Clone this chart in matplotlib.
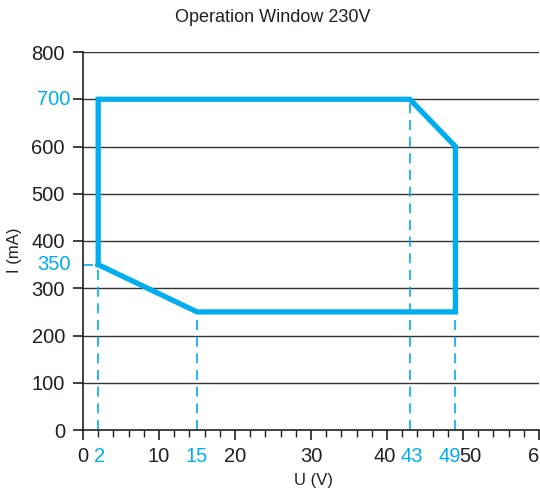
import matplotlib
matplotlib.use("Agg")
import matplotlib.pyplot as plt
from matplotlib import font_manager
import matplotlib.transforms as mtransforms

# Data
poly_u = [2, 2, 43, 49, 49, 15, 2]
poly_i = [350, 700, 700, 600, 250, 250, 350]
mark_u = [2, 15, 43, 49]
mark_i_top = [350, 250, 700, 600]
mark_i_label = [700, 350]
x_major = [0, 10, 20, 30, 40, 50, 60]
y_major = [0, 100, 200, 300, 400, 500, 600, 700, 800]

names = {f.name for f in font_manager.fontManager.ttflist}
fam = ['Liberation Sans Narrow', 'Liberation Sans', 'DejaVu Sans']
fam = [f for f in fam if f in names] or ['DejaVu Sans']
plt.rcParams['font.family'] = fam

BLUE = '#00AEEF'
DARK = '#231F20'

fig = plt.figure(figsize=(5.40, 4.93), dpi=100)
ax = fig.add_axes([83/540, 1-430/493, (539-83)/540, (430-52)/493])
ax.set_xlim(0, 60)
ax.set_ylim(0, 800)

for s in ['top', 'right']:
    ax.spines[s].set_visible(False)
for s in ['left', 'bottom']:
    ax.spines[s].set_color(DARK)
    ax.spines[s].set_linewidth(1.2)

ax.set_yticks(y_major)
ax.set_xticks(x_major)
ax.set_xticks(range(0, 61, 2), minor=True)
ax.tick_params(axis='both', which='major', labelsize=14.5, colors=DARK, length=7, width=1.2)
ax.tick_params(axis='x', which='minor', length=5, width=1.0, colors=DARK)
ax.tick_params(axis='y', which='major', labelsize=14.5, length=7, pad=6)
ax.tick_params(axis='x', which='major', pad=5)

# custom x labels (hide default, draw to allow shifting)
ax.set_xticklabels([])
ax.set_yticklabels([str(v) if v not in mark_i_label else '' for v in y_major])
trans_x = mtransforms.blended_transform_factory(ax.transData, ax.transAxes)
xoff = {0: 0, 10: 0, 20: 0, 30: 0, 40: -0.3, 50: 1.0, 60: 0}
for v in x_major:
    ax.text(v + xoff[v], -0.045, str(v), transform=trans_x, ha='center', va='top',
            fontsize=14.5, color=DARK)
bxoff = {2: 0.2, 15: 0, 43: 0.3, 49: -0.8}
for v in mark_u:
    ax.text(v + bxoff[v], -0.045, str(v), transform=trans_x, ha='center', va='top',
            fontsize=14.5, color=BLUE)
trans_y = mtransforms.blended_transform_factory(ax.transAxes, ax.transData)
for v in mark_i_label:
    ax.text(-0.027, v, str(v), transform=trans_y, ha='right', va='center',
            fontsize=14.5, color=BLUE)

# grid
for v in y_major[1:]:
    ax.axhline(v, color='#333333', lw=1.0, zorder=1)

# dashed markers
for u, top in zip(mark_u, mark_i_top):
    ax.plot([u, u], [0, top], color=BLUE, lw=1.2, ls=(0, (6, 4)), zorder=2)
ax.plot([0, 2], [350, 350], color=BLUE, lw=1.2, ls=(0, (6, 4)), zorder=2)

# operation window
ax.plot(poly_u, poly_i, color=BLUE, lw=3.8, solid_joinstyle='miter', zorder=3)

fig.text(0.5 * (83 + 539) / 540 - 0.07, 1 - 18/493, 'Operation Window 230V', ha='center', va='center',
         fontsize=13, color=DARK)
fig.text(314/540, 1 - 480/493, 'U (V)', ha='center', va='center', fontsize=12, color=DARK)
fig.text(14/540, 1 - 250/493, 'I (mA)', ha='center', va='center', rotation=90, fontsize=12, color=DARK)

fig.savefig('out.png', dpi=100)
